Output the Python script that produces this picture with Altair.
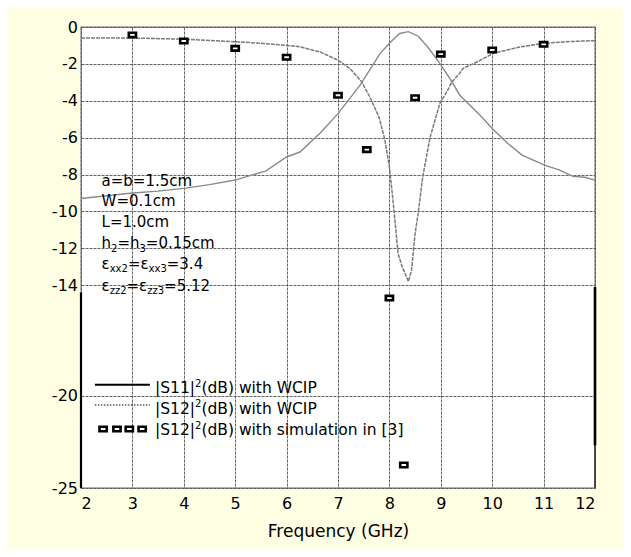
import altair as alt
import pandas as pd

# ---------------- data ----------------
s11_freq = [2.0, 2.5, 3.0, 3.5, 4.0, 4.5, 5.0, 5.3, 5.6, 6.0, 6.26, 6.65, 7.0, 7.43,
            7.82, 8.0, 8.2, 8.37, 8.56, 8.75, 8.98, 9.2, 9.37, 9.76, 10.0, 10.3,
            10.58, 11.03, 11.3, 11.57, 11.8, 12.0]
s11_db = [-9.3, -9.15, -9.0, -8.9, -8.75, -8.55, -8.3, -8.05, -7.8, -7.05, -6.78, -5.76,
          -4.7, -3.15, -1.43, -0.88, -0.35, -0.25, -0.5, -1.1, -1.97, -2.9, -3.7, -4.77,
          -5.5, -6.3, -6.95, -7.5, -7.75, -8.1, -8.15, -8.3]

s12_freq = [2.0, 3.0, 4.0, 5.0, 5.5, 6.0, 6.26, 6.65, 7.0, 7.23, 7.46, 7.62, 7.8, 7.91,
            8.0, 8.07, 8.17, 8.25, 8.37, 8.43, 8.5, 8.56, 8.65, 8.79, 8.98, 9.14, 9.21,
            9.37, 9.43, 9.7, 10.02, 10.54, 11.03, 11.57, 12.0]
s12_db = [-0.6, -0.6, -0.66, -0.8, -0.88, -1.0, -1.07, -1.35, -1.8, -2.25, -2.97, -3.8,
          -4.9, -6.1, -7.6, -9.4, -12.3, -13.0, -13.8, -13.2, -11.2, -10.1, -8.1, -6.0,
          -4.15, -3.4, -3.0, -2.5, -2.25, -1.9, -1.43, -1.08, -0.88, -0.78, -0.74]

sim_freq = [3.0, 4.0, 5.0, 6.0, 7.0, 7.56, 8.0, 8.28, 8.5, 9.0, 10.0, 11.0]
sim_db = [-0.43, -0.76, -1.16, -1.64, -3.7, -6.65, -14.7, -23.75, -3.84, -1.47, -1.25, -0.94]

x_ticks = [2, 3, 4, 5, 6, 7, 8, 9, 10, 11, 12]
y_ticks = [0, -2, -4, -6, -8, -10, -12, -14, -20, -25]

x_title = "Frequency (GHz)"

# annotation lines: list of (text, kind) pieces; kind n=normal, sub=subscript
note_lines = [
    [("a=b=1.5cm", "n")],
    [("W=0.1cm", "n")],
    [("L=1.0cm", "n")],
    [("h", "n"), ("2", "sub"), ("=h", "n"), ("3", "sub"), ("=0.15cm", "n")],
    [("ε", "n"), ("xx2", "sub"), ("=ε", "n"), ("xx3", "sub"), ("=3.4", "n")],
    [("ε", "n"), ("zz2", "sub"), ("=ε", "n"), ("zz3", "sub"), ("=5.12", "n")],
]
note_f = 2.4
note_db = [-8.6, -9.69, -10.86, -12.0, -13.1, -14.3]

legend_labels = [
    [("|S11|", "n"), ("2", "sup"), ("(dB) with WCIP", "n")],
    [("|S12|", "n"), ("2", "sup"), ("(dB) with WCIP", "n")],
    [("|S12|", "n"), ("2", "sup"), ("(dB) with simulation in [3]", "n")],
]
legend_text_f = 3.44
legend_text_db = [-19.87, -20.98, -22.15]
legend_sym_f = [2.27, 3.34]
legend_sym_db = [-19.4, -20.5, -21.8]
legend_square_f = [2.43, 2.70, 2.94, 3.19]

# ---------------- styling ----------------
FONT = "DejaVu Sans"
BG = "#FFFFE3"
GRID = "#4a4a4a"
SQUARE = "M-1,-0.62H1V0.62H-1Z"

W = {" ": 0.318, "(": 0.390, ")": 0.390, "[": 0.390, "]": 0.390, "|": 0.337,
     "=": 0.838, ".": 0.318, "B": 0.686, "C": 0.698, "I": 0.295, "L": 0.557,
     "P": 0.603, "S": 0.635, "W": 0.989, "a": 0.613, "b": 0.635, "c": 0.550,
     "d": 0.635, "h": 0.634, "i": 0.278, "l": 0.278, "m": 0.974, "n": 0.634,
     "o": 0.612, "s": 0.521, "t": 0.392, "u": 0.634, "w": 0.818, "x": 0.592,
     "z": 0.525, "ε": 0.541}


def text_width(s, size):
    return sum(W.get(ch, 0.636) for ch in s) * size


xs = alt.Scale(domain=[2, 12], nice=False, zero=False)
ys = alt.Scale(domain=[-25, 0], nice=False, zero=False)

x_axis = alt.Axis(values=x_ticks, format="d", grid=True, gridColor=GRID,
                  gridDash=[3, 1], gridWidth=1, gridOpacity=0.85, domain=False,
                  ticks=False, tickSize=0, labelPadding=7, labelFont=FONT,
                  labelFontSize=16, labelColor="black", title=x_title,
                  titleFont=FONT, titleFontSize=17, titleFontWeight="normal",
                  titleColor="black", titleY=48.7, titleBaseline="alphabetic")
y_axis = alt.Axis(values=y_ticks, grid=True, gridColor=GRID, gridDash=[3, 1],
                  gridWidth=1, gridOpacity=0.85, domain=False, ticks=False,
                  tickSize=0, labelPadding=3.5, labelFont=FONT, labelFontSize=16,
                  labelColor="black", title=None,
                  labelExpr="datum.value == 0 ? '0' : '-' + abs(datum.value)")

X = alt.X("f:Q", scale=xs, axis=x_axis)
Y = alt.Y("db:Q", scale=ys, axis=y_axis)

s11_df = pd.DataFrame({"f": s11_freq, "db": s11_db})
s12_df = pd.DataFrame({"f": s12_freq, "db": s12_db})
sim_df = pd.DataFrame({"f": sim_freq, "db": sim_db})

base_layers = [
    alt.Chart(s11_df).mark_line(color="#8a8a8a", strokeWidth=1.4).encode(x=X, y=Y),
    alt.Chart(s12_df).mark_line(color="#7a7a7a", strokeWidth=1.5,
                                strokeDash=[4, 1]).encode(x=X, y=Y),
    alt.Chart(sim_df).mark_point(shape=SQUARE, size=52, filled=True, fill="white",
                                 fillOpacity=1, stroke="black", strokeWidth=2.6,
                                 opacity=1).encode(x=X, y=Y),
]

# frame artefacts (thick black border segments)
frame_df = pd.DataFrame({"f": [2, 12, 12], "db": [-14.4, -14.1, -22.7],
                         "db2": [-25, -22.7, -25], "w": ["a", "b", "c"]})
frame_layers = [
    alt.Chart(frame_df.iloc[[0]]).mark_rule(color="black", strokeWidth=2.2).encode(
        x=X, y=Y, y2="db2:Q"),
    alt.Chart(frame_df.iloc[[1]]).mark_rule(color="black", strokeWidth=2.6).encode(
        x=X, y=Y, y2="db2:Q"),
    alt.Chart(frame_df.iloc[[2]]).mark_rule(color="#333333", strokeWidth=1.6).encode(
        x=X, y=Y, y2="db2:Q"),
]


def piece_layers(pieces, f, db, main, small):
    out = []
    dx = 0.0
    for txt, kind in pieces:
        size = main if kind == "n" else small
        dy = 0 if kind == "n" else (3.5 if kind == "sub" else -6.5)
        df = pd.DataFrame({"f": [f], "db": [db], "t": [txt]})
        out.append(alt.Chart(df).mark_text(align="left", baseline="alphabetic",
                                           dx=dx, dy=dy, font=FONT, fontSize=size,
                                           color="black").encode(x=X, y=Y, text="t:N"))
        dx += text_width(txt, size)
    return out


note_layers = []
for pieces, db in zip(note_lines, note_db):
    note_layers += piece_layers(pieces, note_f, db, 15, 10)

legend_layers = []
for pieces, db in zip(legend_labels, legend_text_db):
    legend_layers += piece_layers(pieces, legend_text_f, db, 15.5, 10)

leg_line_df = pd.DataFrame({"f": [legend_sym_f[0]], "f2": [legend_sym_f[1]],
                            "db": [legend_sym_db[0]]})
leg_dot_df = pd.DataFrame({"f": [legend_sym_f[0]], "f2": [legend_sym_f[1]],
                           "db": [legend_sym_db[1]]})
leg_sq_df = pd.DataFrame({"f": legend_square_f,
                          "db": [legend_sym_db[2]] * len(legend_square_f)})
legend_layers += [
    alt.Chart(leg_line_df).mark_rule(color="black", strokeWidth=2).encode(
        x=X, x2="f2:Q", y=Y),
    alt.Chart(leg_dot_df).mark_rule(color="#555555", strokeWidth=1.5,
                                    strokeDash=[1.5, 1.5]).encode(x=X, x2="f2:Q", y=Y),
    alt.Chart(leg_sq_df).mark_point(shape=SQUARE, size=52, filled=True, fill="white",
                                    fillOpacity=1, stroke="black", strokeWidth=2.6,
                                    opacity=1).encode(x=X, y=Y),
]

chart = alt.layer(*base_layers, *frame_layers, *note_layers, *legend_layers).properties(
    width=514,
    height=461,
    autosize=alt.AutoSizeParams(type="none"),
    padding={"left": 73, "top": 19, "right": 28, "bottom": 61},
    background=BG,
).configure_view(fill="white", stroke="#9a9a9a", strokeWidth=1.5)

chart.save("out.html", embed_options={"renderer": "svg", "actions": False})
